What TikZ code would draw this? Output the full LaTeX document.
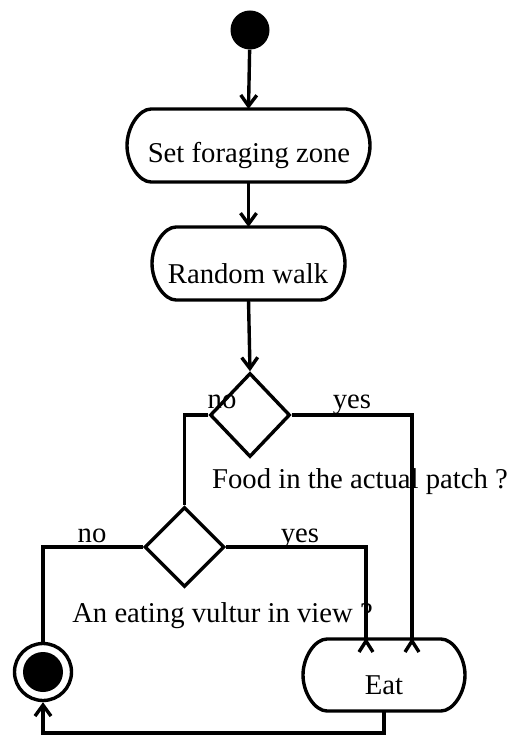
\documentclass[tikz,border=0pt]{standalone}
\usepackage{fontspec}
\setmainfont{Liberation Serif}
\usetikzlibrary{arrows.meta,shapes.geometric}
\tikzset{
  conn/.style={line width=3.4pt},
  arr/.style={conn,-{Straight Barb[length=11pt,width=16pt,line width=3.4pt]}},
  boxn/.style={rectangle,inner sep=0pt,outer sep=0pt},
  dec/.style={diamond,draw,line width=3.4pt,inner sep=0pt,minimum width=80pt,minimum height=84pt},
  txt/.style={anchor=base,inner sep=0pt,font=\fontsize{28.7}{34}\selectfont}
}
\newcommand\stadiumoutline[1]{%
  \draw[line width=3.4pt] ([xshift=24pt]#1.north west) -- ([xshift=-24pt]#1.north east)
    .. controls +(12pt,0pt) and +(0pt,18pt) .. (#1.east)
    .. controls +(0pt,-18pt) and +(12pt,0pt) .. ([xshift=-24pt]#1.south east)
    -- ([xshift=24pt]#1.south west)
    .. controls +(-12pt,0pt) and +(0pt,-18pt) .. (#1.west)
    .. controls +(0pt,18pt) and +(-12pt,0pt) .. cycle;}
\begin{document}
\begin{tikzpicture}[x=1pt,y=1pt]
\useasboundingbox (0,0) rectangle (512,-735);
% nodes
\node[circle,fill=black,inner sep=0pt,minimum size=39pt] (start) at (250,-30) {};
\node[boxn,minimum width=243pt,minimum height=73pt] (sfz) at (248.5,-145.5) {};
\node[boxn,minimum width=193pt,minimum height=73pt] (rw) at (248.5,-263.5) {};
\node[boxn,minimum width=162pt,minimum height=72pt] (eat) at (384,-675) {};
\stadiumoutline{sfz}
\stadiumoutline{rw}
\stadiumoutline{eat}
\node[dec] (d1) at (250,-415) {};
\node[dec,minimum width=80pt,minimum height=80pt] (d2) at (184.5,-547) {};
\node[circle,draw,line width=3.4pt,inner sep=0pt,minimum size=57pt] (final) at (43,-672) {};
\fill (final.center) circle (20pt);
% texts
\node[txt] (tsfz) at (249,-163) {Set foraging zone};
\node[txt] (trw) at (248,-283) {Random walk};
\node[txt] (teat) at (384,-694) {Eat};
\node[txt] (no1) at (222,-408) {no};
\node[txt] (yes1) at (352,-408) {yes};
\node[txt] (q1) at (360,-488) {Food in the actual patch ?};
\node[txt] (no2) at (92,-542) {no};
\node[txt] (yes2) at (300,-542) {yes};
\node[txt] (q2) at (222.5,-622) {An eating vultur in view ?};
% connectors
\coordinate (e1) at (366,-641);
\coordinate (e2) at (412,-641);
\coordinate (fb) at (43,-733);
\draw[arr] (start) -- (sfz.north);
\draw[arr] (sfz.south) -- (rw.north);
\draw[arr] (rw.south) -- (d1.north);
\draw[conn] (d1.west) -| (d2.north);
\draw[conn] (d1.east) -| (e2);
\draw[conn] (d2.west) -| (final.north);
\draw[conn] (d2.east) -| (e1);
\draw[conn] ([xshift=-7pt,yshift=-11pt]e1) -- (e1) -- ([xshift=7pt,yshift=-11pt]e1);
\draw[conn] ([xshift=-7pt,yshift=-11pt]e2) -- (e2) -- ([xshift=7pt,yshift=-11pt]e2);
\draw[arr] (eat.south) |- (fb) -- (final.south);
\end{tikzpicture}
\end{document}
